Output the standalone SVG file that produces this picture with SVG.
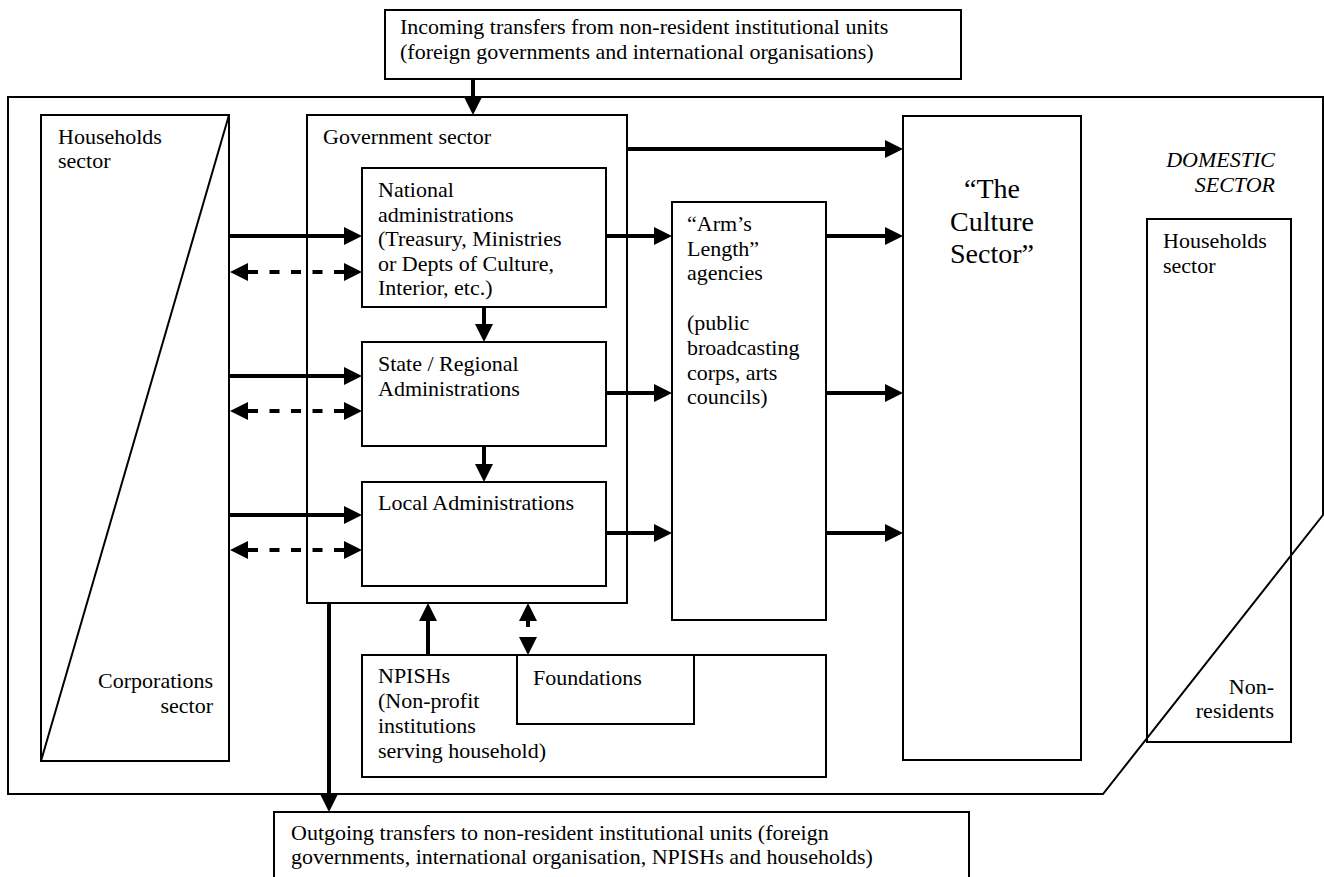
<svg xmlns="http://www.w3.org/2000/svg" width="1324" height="877" viewBox="0 0 1324 877">
<style>
.box{fill:none;stroke:#000;stroke-width:2}
.t{font-family:"Liberation Serif","Times New Roman",serif;font-size:22px;fill:#000}
.big{font-size:28px}
.it{font-style:italic}
.arr{stroke:#000;stroke-width:4;fill:none;marker-end:url(#ah)}
.dash{stroke:#000;stroke-width:4;fill:none;stroke-dasharray:10 11.5;marker-start:url(#ah);marker-end:url(#ah)}
</style>
<defs>
<marker id="ah" markerUnits="userSpaceOnUse" markerWidth="18" markerHeight="18" refX="0" refY="9" orient="auto-start-reverse" viewBox="0 0 18 18">
<path d="M0,0 L18,9 L0,18 Z" fill="#000"/>
</marker>
</defs>
<rect width="1324" height="877" fill="#fff"/>

<g id="domestic">
<polygon class="box" points="8,97 1323,97 1323,515 1103,794 8,794"/>
<text class="t it" text-anchor="end"><tspan x="1275" y="167">DOMESTIC</tspan><tspan x="1275" y="192">SECTOR</tspan></text>
</g>

<g id="incoming">
<rect class="box" x="385" y="10" width="576" height="69"/>
<text class="t"><tspan x="400" y="34">Incoming transfers from non-resident institutional units</tspan><tspan x="400" y="59">(foreign governments and international organisations)</tspan></text>
</g>

<g id="households-corporations">
<rect class="box" x="41" y="115" width="188" height="646"/>
<line class="box" x1="229" y1="115" x2="41" y2="761"/>
<text class="t"><tspan x="58" y="144">Households</tspan><tspan x="58" y="168">sector</tspan></text>
<text class="t" text-anchor="end"><tspan x="213" y="688">Corporations</tspan><tspan x="213" y="713">sector</tspan></text>
</g>

<g id="government">
<rect class="box" x="307" y="115" width="320" height="488"/>
<text class="t" x="323" y="144">Government sector</text>
</g>

<g id="national">
<rect class="box" x="362" y="168" width="244" height="139"/>
<text class="t"><tspan x="378" y="197">National</tspan><tspan x="378" y="221.5">administrations</tspan><tspan x="378" y="246">(Treasury, Ministries</tspan><tspan x="378" y="270.5">or Depts of Culture,</tspan><tspan x="378" y="295">Interior, etc.)</tspan></text>
</g>

<g id="state">
<rect class="box" x="362" y="342" width="244" height="104"/>
<text class="t"><tspan x="378" y="371">State / Regional</tspan><tspan x="378" y="396">Administrations</tspan></text>
</g>

<g id="local">
<rect class="box" x="362" y="482" width="244" height="104"/>
<text class="t" x="378" y="510">Local Administrations</text>
</g>

<g id="arms-length">
<rect class="box" x="672" y="202" width="154" height="418"/>
<text class="t"><tspan x="687" y="231">“Arm’s</tspan><tspan x="687" y="256">Length”</tspan><tspan x="687" y="280">agencies</tspan><tspan x="687" y="330">(public</tspan><tspan x="687" y="355">broadcasting</tspan><tspan x="687" y="380">corps, arts</tspan><tspan x="687" y="404">councils)</tspan></text>
</g>

<g id="culture">
<rect class="box" x="903" y="116" width="178" height="644"/>
<text class="t big" text-anchor="middle"><tspan x="992" y="198">“The</tspan><tspan x="992" y="231">Culture</tspan><tspan x="992" y="263">Sector”</tspan></text>
</g>

<g id="households-nonresidents">
<rect class="box" x="1147" y="219" width="144" height="523"/>
<text class="t"><tspan x="1163" y="248">Households</tspan><tspan x="1163" y="273">sector</tspan></text>
<text class="t" text-anchor="end"><tspan x="1274" y="694">Non-</tspan><tspan x="1274" y="718">residents</tspan></text>
</g>

<g id="npish">
<rect class="box" x="362" y="655" width="464" height="122"/>
<text class="t"><tspan x="378" y="683">NPISHs</tspan><tspan x="378" y="708">(Non-profit</tspan><tspan x="378" y="733">institutions</tspan><tspan x="378" y="758">serving household)</tspan></text>
</g>

<g id="foundations">
<rect class="box" x="517" y="655" width="177" height="69"/>
<text class="t" x="533" y="685">Foundations</text>
</g>

<g id="outgoing">
<rect class="box" x="274" y="812" width="695" height="70"/>
<text class="t"><tspan x="291" y="840">Outgoing transfers to non-resident institutional units (foreign</tspan><tspan x="291" y="864">governments, international organisation, NPISHs and households)</tspan></text>
</g>

<g id="connectors">
<line class="arr" x1="473" y1="79" x2="473" y2="97"/>
<line class="arr" x1="329" y1="603" x2="329" y2="794"/>
<line class="arr" x1="229" y1="236" x2="344" y2="236"/>
<line class="arr" x1="229" y1="376" x2="344" y2="376"/>
<line class="arr" x1="229" y1="515" x2="344" y2="515"/>
<line class="dash" x1="248" y1="272" x2="344" y2="272"/>
<line class="dash" x1="248" y1="411" x2="344" y2="411"/>
<line class="dash" x1="248" y1="550" x2="344" y2="550"/>
<line class="arr" x1="484" y1="307" x2="484" y2="324"/>
<line class="arr" x1="484" y1="446" x2="484" y2="464"/>
<line class="arr" x1="627" y1="149" x2="885" y2="149"/>
<line class="arr" x1="606" y1="236" x2="654" y2="236"/>
<line class="arr" x1="606" y1="393" x2="654" y2="393"/>
<line class="arr" x1="606" y1="533" x2="654" y2="533"/>
<line class="arr" x1="826" y1="236" x2="885" y2="236"/>
<line class="arr" x1="826" y1="393" x2="885" y2="393"/>
<line class="arr" x1="826" y1="533" x2="885" y2="533"/>
<line class="arr" x1="428" y1="655" x2="428" y2="621"/>
<line x1="528" y1="621" x2="528" y2="637" stroke="#000" stroke-width="4" stroke-dasharray="6 10" marker-start="url(#ah)" marker-end="url(#ah)"/>
</g>
</svg>
